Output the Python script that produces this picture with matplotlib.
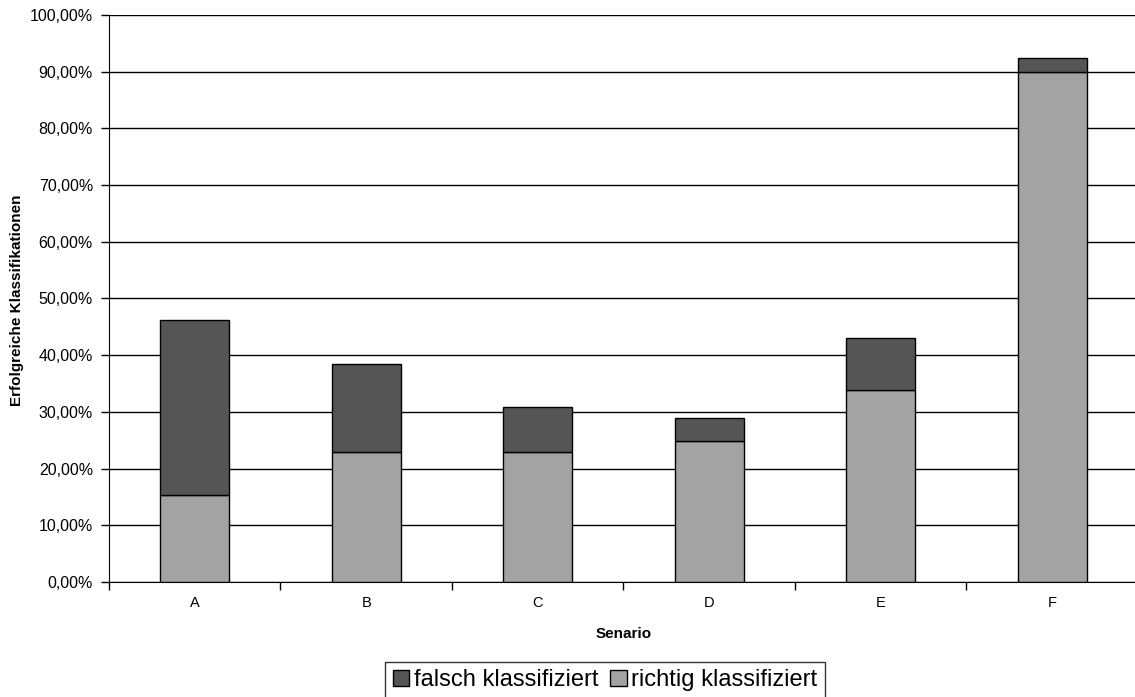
import matplotlib.pyplot as plt
from matplotlib.ticker import FuncFormatter
import numpy as np

plt.rcParams["font.family"] = ["Liberation Sans", "DejaVu Sans"]

scenarios = ["A", "B", "C", "D", "E", "F"]
richtig = [15.3, 23.0, 23.0, 24.9, 33.9, 90.0]
gesamt = [46.2, 38.5, 30.9, 29.0, 43.0, 92.4]
falsch = [g - r for g, r in zip(gesamt, richtig)]

DARK = "#555555"
LIGHT = "#A3A3A3"


def pct(v, _pos):
    return f"{v:.2f}".replace(".", ",") + "%"


def main():
    fig = plt.figure(figsize=(11.35, 6.97), dpi=100)
    ax = fig.add_axes([0.096, 0.165, 0.9066, 0.8135])

    x = np.arange(len(scenarios))
    ax.bar(x, richtig, width=0.40, color=LIGHT, edgecolor="black", linewidth=1.0,
           label="richtig klassifiziert", zorder=3)
    ax.bar(x, falsch, width=0.40, bottom=richtig, color=DARK, edgecolor="black",
           linewidth=1.0, label="falsch klassifiziert", zorder=3)

    ax.set_xlim(-0.5, len(scenarios) - 0.5)
    ax.set_ylim(0, 100)
    ax.set_yticks(np.arange(0, 101, 10))
    ax.yaxis.set_major_formatter(FuncFormatter(pct))
    ax.yaxis.grid(True, color="black", linewidth=1.0, zorder=0)
    ax.set_axisbelow(True)

    # category labels centred, tick marks on the category borders
    ax.set_xticks(x)
    ax.set_xticklabels(scenarios)
    ax.tick_params(axis="x", length=0, pad=10, labelsize=10.5)
    ax.set_xticks(np.arange(-0.5, len(scenarios)), minor=True)
    ax.tick_params(axis="x", which="minor", length=6, direction="out", width=1)
    ax.tick_params(axis="y", length=6, direction="out", width=1, labelsize=11.5,
                   pad=5.5)

    for side in ("top", "right"):
        ax.spines[side].set_visible(False)
    ax.spines["left"].set_color("black")
    ax.spines["bottom"].set_color("black")

    ax.set_xlabel("Senario", fontsize=11, fontweight="bold", labelpad=12)
    # y label placed by hand so it sits close to the left edge
    fig.text(17 / 1135, 1 - 300 / 697, "Erfolgreiche Klassifikationen",
             rotation=90, ha="center", va="center", fontsize=11,
             fontweight="bold")

    handles, labels = ax.get_legend_handles_labels()
    leg = fig.legend(handles[::-1], labels[::-1], loc="upper center",
                     bbox_to_anchor=(605 / 1135, 1 - 662 / 697), ncol=2,
                     fontsize=17, frameon=True, fancybox=False, edgecolor="black",
                     handlelength=0.7, handleheight=0.7, handletextpad=0.2,
                     columnspacing=0.5, borderpad=0.3, borderaxespad=0)
    leg.get_frame().set_linewidth(1.0)

    fig.savefig("out.png", dpi=100)


if __name__ == "__main__":
    main()
